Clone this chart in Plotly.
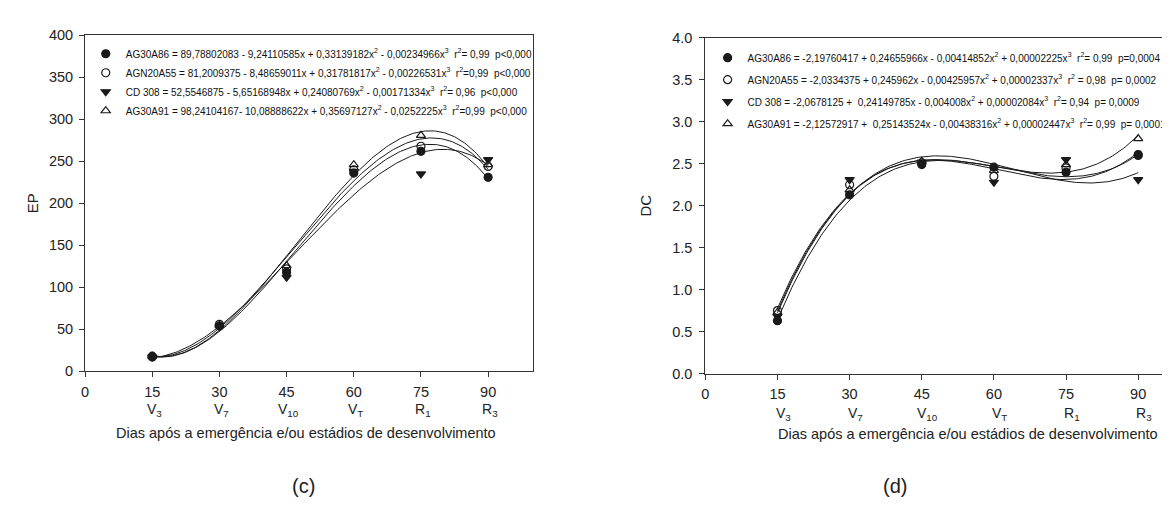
import numpy as np
import plotly.graph_objects as go

# ---------------- data ----------------
days = [15, 30, 45, 60, 75, 90]
tick_days = [0, 15, 30, 45, 60, 75, 90]
stage_labels = ["V<sub>3</sub>", "V<sub>7</sub>", "V<sub>10</sub>", "V<sub>T</sub>", "R<sub>1</sub>", "R<sub>3</sub>"]
cultivars = ["AG30A86", "AGN20A55", "CD 308", "AG30A91"]

# EP observed values
ep_ag30a86 = [17, 54, 118, 236, 262, 231]
ep_agn20a55 = [18, 56, 122, 240, 268, 244]
ep_cd308 = [17, 53, 112, 238, 235, 252]
ep_ag30a91 = [18, 55, 126, 246, 281, 246]

# DC observed values
dc_ag30a86 = [0.63, 2.13, 2.49, 2.46, 2.40, 2.61]
dc_agn20a55 = [0.75, 2.25, 2.51, 2.35, 2.45, 2.60]
dc_cd308 = [0.68, 2.31, 2.52, 2.28, 2.55, 2.31]
dc_ag30a91 = [0.73, 2.19, 2.53, 2.42, 2.49, 2.80]

# regression coefficients (b0, b1, b2, b3) as printed in the legends
ep_coef_ag30a86 = [89.78802083, -9.24110585, 0.33139182, -0.00234966]
ep_coef_agn20a55 = [81.2009375, -8.48659011, 0.31781817, -0.00226531]
ep_coef_cd308 = [52.5546875, -5.65168948, 0.24080769, -0.00171334]
ep_coef_ag30a91 = [98.24104167, -10.08888622, 0.35697127, -0.00252225]

dc_coef_ag30a86 = [-2.19760417, 0.24655966, -0.00414852, 0.00002225]
dc_coef_agn20a55 = [-2.0334375, 0.245962, -0.00425957, 0.00002337]
dc_coef_cd308 = [-2.0678125, 0.24149785, -0.004008, 0.00002084]
dc_coef_ag30a91 = [-2.12572917, 0.25143524, -0.00438316, 0.00002447]

ep_labels = [
    "AG30A86 = 89,78802083 - 9,24110585x + 0,33139182x<sup>2</sup> - 0,00234966x<sup>3</sup>&nbsp; r<sup>2</sup>= 0,99&nbsp; p&lt;0,000",
    "AGN20A55 = 81,2009375 - 8,48659011x + 0,31781817x<sup>2</sup> - 0,00226531x<sup>3</sup>&nbsp; r<sup>2</sup>=0,99&nbsp; p&lt;0,000",
    "CD 308 = 52,5546875 - 5,65168948x + 0,24080769x<sup>2</sup> - 0,00171334x<sup>3</sup>&nbsp; r<sup>2</sup>= 0,96&nbsp; p&lt;0,000",
    "AG30A91 = 98,24104167- 10,08888622x + 0,35697127x<sup>2</sup> - 0,0252225x<sup>3</sup>&nbsp; r<sup>2</sup>=0,99&nbsp; p&lt;0,000",
]
dc_labels = [
    "AG30A86 = -2,19760417 + 0,24655966x - 0,00414852x<sup>2</sup> + 0,00002225x<sup>3</sup>&nbsp; r<sup>2</sup>= 0,99&nbsp; p=0,0004",
    "AGN20A55 = -2,0334375 + 0,245962x - 0,00425957x<sup>2</sup> + 0,00002337x<sup>3</sup>&nbsp; r<sup>2</sup> = 0,98&nbsp; p= 0,0002",
    "CD 308 = -2,0678125 +&nbsp; 0,24149785x - 0,004008x<sup>2</sup> + 0,00002084x<sup>3</sup>&nbsp; r<sup>2</sup>= 0,94&nbsp; p= 0,0009",
    "AG30A91 = -2,12572917 +&nbsp; 0,25143524x - 0,00438316x<sup>2</sup> + 0,00002447x<sup>3</sup>&nbsp; r<sup>2</sup>= 0,99&nbsp; p= 0,0001",
]

ep_series = [ep_ag30a86, ep_agn20a55, ep_cd308, ep_ag30a91]
dc_series = [dc_ag30a86, dc_agn20a55, dc_cd308, dc_ag30a91]
ep_coefs = [ep_coef_ag30a86, ep_coef_agn20a55, ep_coef_cd308, ep_coef_ag30a91]
dc_coefs = [dc_coef_ag30a86, dc_coef_agn20a55, dc_coef_cd308, dc_coef_ag30a91]

# ---------------- style ----------------
INK = "#1a1a1a"
TXT = "#222222"
FONT = "Arial, Liberation Sans, sans-serif"
symbols = ["circle", "circle-open", "triangle-down", "triangle-up-open"]
W, H = 1170, 516


def px_x(p):
    return p / W


def px_y(p):
    return 1 - p / H


fig = go.Figure()

xfit = np.linspace(days[0], days[-1], 200)


def poly(c, x):
    return c[0] + c[1] * x + c[2] * x ** 2 + c[3] * x ** 3


for i in range(4):
    fig.add_trace(go.Scatter(x=xfit, y=poly(ep_coefs[i], xfit), mode="lines",
                             line=dict(color=INK, width=1), showlegend=False,
                             xaxis="x", yaxis="y", hoverinfo="skip"))
for i in range(4):
    fig.add_trace(go.Scatter(x=days, y=ep_series[i], mode="markers", name=ep_labels[i],
                             marker=dict(symbol=symbols[i], size=8, color=INK,
                                         line=dict(color=INK, width=1.2)),
                             xaxis="x", yaxis="y", legend="legend", legendgroup="ep%d" % i))
for i in range(4):
    fig.add_trace(go.Scatter(x=xfit, y=poly(dc_coefs[i], xfit), mode="lines",
                             line=dict(color=INK, width=1), showlegend=False,
                             xaxis="x2", yaxis="y2", hoverinfo="skip"))
for i in range(4):
    fig.add_trace(go.Scatter(x=days, y=dc_series[i], mode="markers", name=dc_labels[i],
                             marker=dict(symbol=symbols[i], size=8, color=INK,
                                         line=dict(color=INK, width=1.2)),
                             xaxis="x2", yaxis="y2", legend="legend2", legendgroup="dc%d" % i))

axis_common = dict(showline=True, mirror=True, linecolor="#333333", linewidth=1,
                   ticks="outside", ticklen=5, tickcolor="#333333", showgrid=False,
                   zeroline=False, tickfont=dict(family=FONT, size=14.5, color=TXT))

fig.update_layout(
    width=W, height=H,
    margin=dict(l=0, r=0, t=0, b=0),
    paper_bgcolor="white", plot_bgcolor="white",
    showlegend=True,
    xaxis=dict(domain=[px_x(73.3), px_x(522.7)], range=[0, 100], tickvals=tick_days,
               anchor="y", ticklabelstandoff=2, **axis_common),
    yaxis=dict(domain=[px_y(366.7), px_y(20)], range=[0, 400], tickvals=list(range(0, 401, 50)),
               anchor="x", ticklabelstandoff=3, **axis_common),
    xaxis2=dict(domain=[px_x(695.7), px_x(1159)], range=[0, 96], tickvals=tick_days,
                anchor="y2", ticklabelstandoff=2, **axis_common),
    yaxis2=dict(domain=[px_y(369), px_y(22.6)], range=[0, 4], tickvals=[i * 0.5 for i in range(9)],
                tickformat=".1f", anchor="x2", ticklabelstandoff=4, **axis_common),
    legend=dict(x=px_x(74), y=px_y(24), xanchor="left", yanchor="top",
                bgcolor="rgba(0,0,0,0)", borderwidth=0,
                font=dict(family=FONT, size=10, color="#111111"), tracegroupgap=0),
    legend2=dict(x=px_x(698), y=px_y(28), xanchor="left", yanchor="top",
                 bgcolor="rgba(0,0,0,0)", borderwidth=0,
                 font=dict(family=FONT, size=10, color="#111111"), tracegroupgap=3),
)

annotations = []


def note(text, x, y, xref="paper", yref="paper", size=14.5, **kw):
    d = dict(text=text, x=x, y=y, xref=xref, yref=yref, showarrow=False,
             xanchor="center", yanchor="middle",
             font=dict(family=FONT, size=size, color=TXT))
    d.update(kw)
    annotations.append(d)


# axis titles
note("EP", px_x(20), 200, yref="y", size=15, textangle=-90)
note("DC", px_x(636), 2.0, yref="y2", size=15, textangle=-90)
xtitle = "Dias após a emergência e/ou estádios de desenvolvimento"
note(xtitle, px_x(295), px_y(430))
note(xtitle, px_x(959), px_y(431))
# stage labels
for d, s in zip(days, stage_labels):
    note(s, d, px_y(407), xref="x", size=14, xshift=2)
    note(s, d, px_y(411), xref="x2", size=14, xshift=6)
# panel letters
note("(c)", px_x(292), px_y(485), size=20)
note("(d)", px_x(886), px_y(485), size=20)
fig.update_layout(annotations=annotations)

fig.write_html("out.html")
